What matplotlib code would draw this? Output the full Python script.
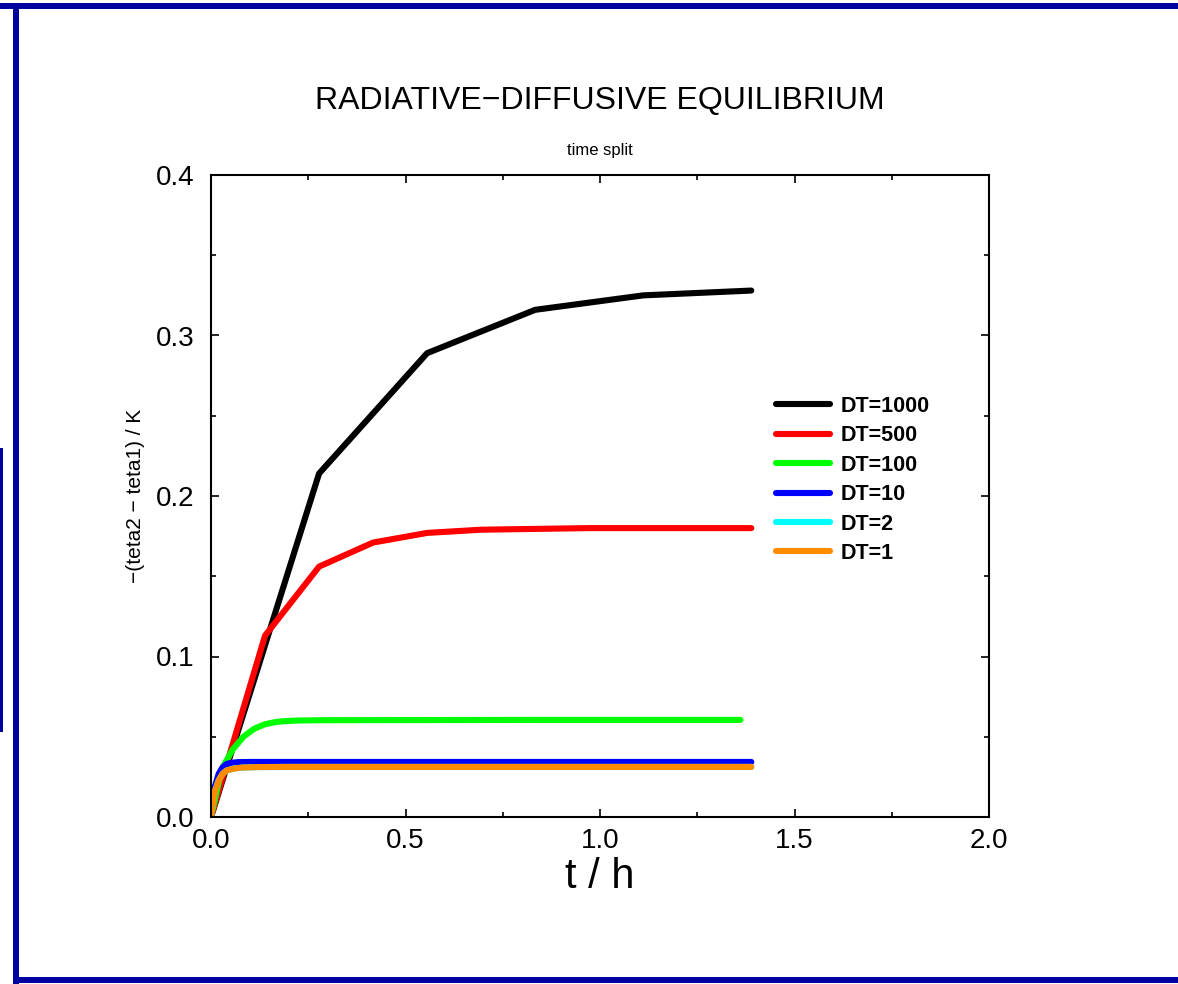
import matplotlib
matplotlib.use("Agg")
import matplotlib.pyplot as plt
from matplotlib.patches import Rectangle
from matplotlib.ticker import MultipleLocator

plt.rcParams["font.family"] = ["Liberation Sans", "DejaVu Sans"]

# time in hours, temperature difference in K
t_1000 = [0, 0.2778, 0.5556, 0.8333, 1.1111, 1.3889]
y_1000 = [0, 0.214, 0.289, 0.316, 0.325, 0.328]

t_500 = [0, 0.1389, 0.2778, 0.4167, 0.5556, 0.6944, 0.8333, 0.9722, 1.1111, 1.25, 1.3889]
y_500 = [0, 0.113, 0.156, 0.171, 0.177, 0.179, 0.1795, 0.180, 0.180, 0.180, 0.180]

t_100 = [0, 0.0278, 0.0556, 0.0833, 0.1111, 0.1389, 0.1667, 0.1944, 0.2222,
         0.2778, 0.5556, 0.8333, 1.1111, 1.3611]
y_100 = [0, 0.030, 0.042, 0.050, 0.055, 0.0578, 0.0592, 0.0598, 0.0601,
         0.0603, 0.0604, 0.0605, 0.0605, 0.0605]

t_10 = [0, 0.005, 0.01, 0.02, 0.03, 0.04, 0.05, 0.07, 0.1, 0.5, 1.0, 1.3889]
y_10 = [0, 0.011, 0.019, 0.027, 0.031, 0.033, 0.0337, 0.0342, 0.0343, 0.0343, 0.0343, 0.0343]

t_2 = [0, 0.005, 0.01, 0.02, 0.03, 0.04, 0.06, 0.08, 0.12, 0.2, 0.5, 1.0, 1.3889]
y_2 = [0, 0.009, 0.016, 0.023, 0.027, 0.029, 0.0302, 0.0308, 0.0311, 0.0312, 0.0312, 0.0312, 0.0312]

t_1 = [0, 0.005, 0.01, 0.02, 0.03, 0.04, 0.06, 0.08, 0.12, 0.2, 0.5, 1.0, 1.3889]
y_1 = [0, 0.009, 0.016, 0.023, 0.027, 0.029, 0.0302, 0.0308, 0.0311, 0.0312, 0.0312, 0.0312, 0.0312]

series = [
    ("DT=1000", t_1000, y_1000, "black"),
    ("DT=500", t_500, y_500, "#ff0000"),
    ("DT=100", t_100, y_100, "#00ff00"),
    ("DT=10", t_10, y_10, "#0000ff"),
    ("DT=2", t_2, y_2, "#00ffff"),
    ("DT=1", t_1, y_1, "#ff8c00"),
]

fig = plt.figure(figsize=(11.78, 9.84), dpi=100)

# dark blue page frame
frame = "#0000a0"
fig.add_artist(Rectangle((0, 1 - 9 / 984), 1, 6 / 984, transform=fig.transFigure,
                         color=frame, lw=0))
fig.add_artist(Rectangle((13 / 1178, 0), 6 / 1178, 1 - 3 / 984, transform=fig.transFigure,
                         color=frame, lw=0))
fig.add_artist(Rectangle((13 / 1178, 1 / 984), 1, 6 / 984, transform=fig.transFigure,
                         color=frame, lw=0))
fig.add_artist(Rectangle((0, 1 - 732 / 984), 3 / 1178, 284 / 984, transform=fig.transFigure,
                         color=frame, lw=0))

ax = fig.add_axes([211 / 1178, 1 - 817 / 984, 778 / 1178, 642 / 984])

for label, t, y, c in series:
    ax.plot(t, y, color=c, lw=4.4, label=label, solid_capstyle="round",
            solid_joinstyle="round")

ax.set_xlim(0, 2.0)
ax.set_ylim(0, 0.4)
ax.xaxis.set_major_locator(MultipleLocator(0.5))
ax.xaxis.set_minor_locator(MultipleLocator(0.25))
ax.yaxis.set_major_locator(MultipleLocator(0.1))
ax.yaxis.set_minor_locator(MultipleLocator(0.05))
ax.set_xticklabels([f"{v:.1f}" for v in ax.get_xticks()])
ax.set_yticklabels([f"{v:.1f}" for v in ax.get_yticks()])
ax.tick_params(which="both", direction="in", top=True, right=True, width=1.2)
ax.tick_params(which="major", length=6, labelsize=20)
ax.tick_params(axis="y", which="major", pad=12)
ax.tick_params(axis="x", which="major", pad=8)
ax.tick_params(which="minor", length=3.5)
for s in ax.spines.values():
    s.set_linewidth(1.5)

ax.set_xlabel("t / h", fontsize=30, labelpad=2)
ax.set_ylabel("\u2212(teta2 \u2212 teta1) / K", fontsize=15, labelpad=8)

fig.text(600 / 1178, 1 - 101 / 984, "RADIATIVE\u2212DIFFUSIVE EQUILIBRIUM",
         ha="center", va="center", fontsize=23)
fig.text(600 / 1178, 1 - 150 / 984, "time split", ha="center", va="center", fontsize=12)

leg = ax.legend(loc="upper left", bbox_to_anchor=(776 / 1178, 1 - 396 / 984),
                bbox_transform=fig.transFigure, frameon=False, borderpad=0,
                borderaxespad=0, handlelength=2.5, handletextpad=0.5,
                labelspacing=0.39, prop={"weight": "bold", "size": 15.5})

fig.savefig("out.png", dpi=100, facecolor="white")
